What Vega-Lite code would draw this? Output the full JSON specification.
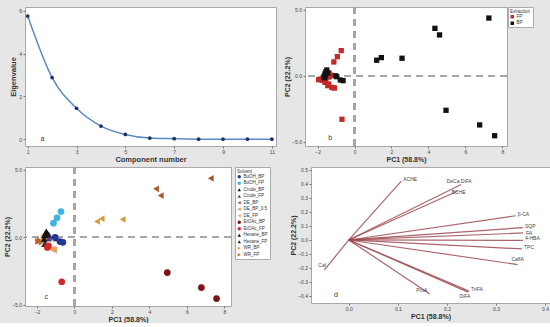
{
  "$schema": "https://vega.github.io/schema/vega-lite/v6.json",
  "background": "#e6e6e6",
  "padding": {"left": 3, "top": 5, "right": 0, "bottom": 0},
  "datasets": {
    "scree": [
      {"component": 1, "eigen": 5.75}, {"component": 2, "eigen": 2.88}, {"component": 3, "eigen": 1.45},
      {"component": 4, "eigen": 0.62}, {"component": 5, "eigen": 0.23}, {"component": 6, "eigen": 0.06},
      {"component": 7, "eigen": 0.03}, {"component": 8, "eigen": 0.01}, {"component": 9, "eigen": 0.01},
      {"component": 10, "eigen": 0.01}, {"component": 11, "eigen": 0.01}
    ],
    "scores": [
      {"solvent": "Hexane_FP", "extraction": "FP", "pc1": -1.6, "pc2": -0.5},
      {"solvent": "Hexane_FP", "extraction": "FP", "pc1": -1.55, "pc2": -0.45},
      {"solvent": "Hexane_FP", "extraction": "FP", "pc1": -1.38, "pc2": 0.21},
      {"solvent": "WR_FP", "extraction": "FP", "pc1": -1.94, "pc2": -0.3},
      {"solvent": "WR_FP", "extraction": "FP", "pc1": -1.85, "pc2": -0.25},
      {"solvent": "WR_FP", "extraction": "FP", "pc1": -1.75, "pc2": -0.35},
      {"solvent": "Crude_FP", "extraction": "FP", "pc1": -1.36, "pc2": -0.04},
      {"solvent": "Crude_FP", "extraction": "FP", "pc1": -1.3, "pc2": 0.05},
      {"solvent": "Crude_FP", "extraction": "FP", "pc1": -1.4, "pc2": -0.1},
      {"solvent": "DE_FP", "extraction": "FP", "pc1": -1.23, "pc2": -0.88},
      {"solvent": "DE_FP", "extraction": "FP", "pc1": -1.09, "pc2": -0.93},
      {"solvent": "DE_FP", "extraction": "FP", "pc1": -1.15, "pc2": -0.9},
      {"solvent": "EtOAc_FP", "extraction": "FP", "pc1": -0.68, "pc2": -3.3},
      {"solvent": "EtOAc_FP", "extraction": "FP", "pc1": -1.45, "pc2": -0.75},
      {"solvent": "EtOAc_FP", "extraction": "FP", "pc1": -1.39, "pc2": -0.63},
      {"solvent": "BuOH_FP", "extraction": "FP", "pc1": -0.72, "pc2": 1.91},
      {"solvent": "BuOH_FP", "extraction": "FP", "pc1": -0.93, "pc2": 1.45},
      {"solvent": "BuOH_FP", "extraction": "FP", "pc1": -1.12, "pc2": 1.05},
      {"solvent": "WR_BP", "extraction": "BP", "pc1": -1.65, "pc2": -0.05},
      {"solvent": "WR_BP", "extraction": "BP", "pc1": -1.58, "pc2": 0.05},
      {"solvent": "WR_BP", "extraction": "BP", "pc1": -1.62, "pc2": -0.15},
      {"solvent": "Crude_BP", "extraction": "BP", "pc1": -1.6, "pc2": 0.14},
      {"solvent": "Crude_BP", "extraction": "BP", "pc1": -1.62, "pc2": -0.12},
      {"solvent": "Crude_BP", "extraction": "BP", "pc1": -0.96, "pc2": -0.07},
      {"solvent": "Hexane_BP", "extraction": "BP", "pc1": -1.5, "pc2": 0.44},
      {"solvent": "Hexane_BP", "extraction": "BP", "pc1": -1.55, "pc2": 0.3},
      {"solvent": "Hexane_BP", "extraction": "BP", "pc1": -1.45, "pc2": 0.2},
      {"solvent": "BuOH_BP", "extraction": "BP", "pc1": -1.03, "pc2": 0.0},
      {"solvent": "BuOH_BP", "extraction": "BP", "pc1": -0.77, "pc2": -0.32},
      {"solvent": "BuOH_BP", "extraction": "BP", "pc1": -0.62, "pc2": -0.37},
      {"solvent": "DE_BP", "extraction": "BP", "pc1": 7.27, "pc2": 4.38},
      {"solvent": "DE_BP", "extraction": "BP", "pc1": 4.35, "pc2": 3.6},
      {"solvent": "DE_BP", "extraction": "BP", "pc1": 4.6, "pc2": 3.1},
      {"solvent": "DE_BP_0.5", "extraction": "BP", "pc1": 1.2, "pc2": 1.18},
      {"solvent": "DE_BP_0.5", "extraction": "BP", "pc1": 1.45, "pc2": 1.38},
      {"solvent": "DE_BP_0.5", "extraction": "BP", "pc1": 2.57, "pc2": 1.33},
      {"solvent": "EtOAc_BP", "extraction": "BP", "pc1": 4.95, "pc2": -2.62},
      {"solvent": "EtOAc_BP", "extraction": "BP", "pc1": 6.77, "pc2": -3.73},
      {"solvent": "EtOAc_BP", "extraction": "BP", "pc1": 7.58, "pc2": -4.55}
    ],
    "loadings": [
      {"variable": "ACHE", "pc1": 0.107, "pc2": 0.42},
      {"variable": "DeCa DiFA", "pc1": 0.229, "pc2": 0.396},
      {"variable": "BCHE", "pc1": 0.222, "pc2": 0.35},
      {"variable": "β-CA", "pc1": 0.34, "pc2": 0.173},
      {"variable": "SQP", "pc1": 0.355, "pc2": 0.088},
      {"variable": "FA", "pc1": 0.355, "pc2": 0.05},
      {"variable": "4-HBA", "pc1": 0.355, "pc2": -0.003},
      {"variable": "TPC", "pc1": 0.353, "pc2": -0.064},
      {"variable": "CaffA", "pc1": 0.344, "pc2": -0.176},
      {"variable": "TriFA", "pc1": 0.245, "pc2": -0.365},
      {"variable": "DiFA", "pc1": 0.243, "pc2": -0.372},
      {"variable": "ProA", "pc1": 0.165, "pc2": -0.385},
      {"variable": "Caf", "pc1": -0.05, "pc2": -0.215}
    ]
  },
  "config": {
    "font": "Liberation Sans",
    "view": {"fill": "white", "stroke": "#a8a8a8", "strokeWidth": 1},
    "axis": {
      "domain": false, "grid": false, "labelOverlap": false, "labelFlush": false,
      "labelFontSize": 5, "labelColor": "#444", "labelPadding": 1.5,
      "tickSize": 2, "tickColor": "#777",
      "titleFontSize": 7, "titleFontWeight": "bold", "titleColor": "#333", "titlePadding": 1
    },
    "legend": {
      "orient": "right", "fillColor": "white", "strokeColor": "#aaaaaa", "padding": 2,
      "titleFontSize": 4.5, "titleFontWeight": "normal", "titleColor": "#333", "titlePadding": 1,
      "labelFontSize": 4.5, "labelColor": "#333", "labelOffset": 2, "rowPadding": 1.5,
      "symbolSize": 12, "symbolStrokeWidth": 0
    }
  },
  "spacing": 1,
  "resolve": {"scale": {"color": "independent", "shape": "independent"}, "legend": {"color": "independent", "shape": "independent"}},
  "vconcat": [
    {
      "spacing": 6,
      "resolve": {"scale": {"color": "independent", "shape": "independent"}, "legend": {"color": "independent", "shape": "independent"}},
      "hconcat": [
        {
          "width": 251, "height": 139,
          "data": {"name": "scree"},
          "layer": [
            {
              "mark": {"type": "line", "interpolate": "monotone", "color": "#5b89c4", "strokeWidth": 1.5},
              "encoding": {
                "x": {"field": "component", "type": "quantitative", "scale": {"domain": [0.89, 11.17], "nice": false, "zero": false}, "axis": {"values": [1,2,3,4,5,6,7,8,9,10,11], "title": "Component number", "titleFontSize": 7.5}},
                "y": {"field": "eigen", "type": "quantitative", "scale": {"domain": [-0.31, 6.17], "nice": false, "zero": false}, "axis": {"values": [0,1,2,3,4,5,6], "title": "Eigenvalue", "titleFontSize": 7.5}}
              }
            },
            {
              "mark": {"type": "circle", "color": "#1c2f6a", "opacity": 1, "size": 14},
              "encoding": {
                "x": {"field": "component", "type": "quantitative"},
                "y": {"field": "eigen", "type": "quantitative"}
              }
            },
            {
              "data": {"values": [{"x": 1.6, "y": 0, "t": "a"}]},
              "mark": {"type": "text", "fontSize": 7, "color": "#333"},
              "encoding": {"x": {"field": "x", "type": "quantitative"}, "y": {"field": "y", "type": "quantitative"}, "text": {"field": "t"}}
            }
          ]
        },
        {
          "width": 202, "height": 139,
          "data": {"name": "scores"},
          "layer": [
            {
              "mark": {"type": "rule", "stroke": "#a6a6a6", "strokeDash": [7, 5], "strokeWidth": 1.3},
              "encoding": {"x": {"datum": 0, "type": "quantitative"}}
            },
            {
              "mark": {"type": "rule", "stroke": "#a6a6a6", "strokeDash": [7, 5], "strokeWidth": 1.3},
              "encoding": {"y": {"datum": 0, "type": "quantitative"}}
            },
            {
              "mark": {"type": "point", "shape": "square", "filled": true, "opacity": 1, "size": 28},
              "encoding": {
                "x": {"field": "pc1", "type": "quantitative", "scale": {"domain": [-2.68, 8.25], "nice": false, "zero": false}, "axis": {"values": [-2,0,2,4,6,8], "title": "PC1 (58.8%)"}},
                "y": {"field": "pc2", "type": "quantitative", "scale": {"domain": [-5.33, 5.22], "nice": false, "zero": false}, "axis": {"values": [-5,-2.5,0,2.5,5], "format": ".1f", "title": "PC2 (22.2%)"}},
                "color": {"field": "extraction", "type": "nominal", "scale": {"domain": ["FP", "BP"], "range": ["#c42a2a", "#111111"]}, "legend": {"title": "Extraction", "symbolType": "square", "offset": 1}}
              }
            },
            {
              "data": {"values": [{"x": -1.32, "y": -4.75, "t": "b"}]},
              "mark": {"type": "text", "fontSize": 7, "color": "#333"},
              "encoding": {"x": {"field": "x", "type": "quantitative"}, "y": {"field": "y", "type": "quantitative"}, "text": {"field": "t"}}
            }
          ]
        }
      ]
    },
    {
      "spacing": 18,
      "resolve": {"scale": {"color": "independent", "shape": "independent"}, "legend": {"color": "independent", "shape": "independent"}},
      "hconcat": [
        {
          "width": 206, "height": 139,
          "data": {"name": "scores"},
          "layer": [
            {
              "mark": {"type": "rule", "stroke": "#a6a6a6", "strokeDash": [7, 5], "strokeWidth": 1.3},
              "encoding": {"x": {"datum": 0, "type": "quantitative"}}
            },
            {
              "mark": {"type": "rule", "stroke": "#a6a6a6", "strokeDash": [7, 5], "strokeWidth": 1.3},
              "encoding": {"y": {"datum": 0, "type": "quantitative"}}
            },
            {
              "mark": {"type": "point", "filled": true, "opacity": 1, "size": 45},
              "encoding": {
                "x": {"field": "pc1", "type": "quantitative", "scale": {"domain": [-2.64, 8.35], "nice": false, "zero": false}, "axis": {"values": [-2,0,2,4,6,8], "title": "PC1 (58.8%)"}},
                "y": {"field": "pc2", "type": "quantitative", "scale": {"domain": [-5.1, 5.22], "nice": false, "zero": false}, "axis": {"values": [-5,-2.5,0,2.5,5], "format": ".1f", "title": "PC2 (22.2%)"}},
                "color": {"field": "solvent", "type": "nominal",
                  "scale": {"domain": ["BuOH_BP","BuOH_FP","Crude_BP","Crude_FP","DE_BP","DE_BP_0.5","DE_FP","EtOAc_BP","EtOAc_FP","Hexane_BP","Hexane_FP","WR_BP","WR_FP"],
                            "range": ["#1f3a93","#3fb4e3","#111111","#5b3f8c","#a85a2a","#d99a3a","#e8a25a","#7b1414","#d42a2a","#111111","#2a2a2a","#e8a23a","#b5652a"]},
                  "legend": {"title": "Solvent", "offset": 4, "symbolSize": 12}},
                "shape": {"field": "solvent", "type": "nominal",
                  "scale": {"domain": ["BuOH_BP","BuOH_FP","Crude_BP","Crude_FP","DE_BP","DE_BP_0.5","DE_FP","EtOAc_BP","EtOAc_FP","Hexane_BP","Hexane_FP","WR_BP","WR_FP"],
                            "range": ["circle","circle","triangle-up","triangle-up","triangle-left","triangle-left","triangle-left","circle","circle","triangle-up","triangle-up","triangle-right","triangle-right"]},
                  "legend": {"title": "Solvent", "offset": 4, "symbolSize": 12}}
              }
            },
            {
              "data": {"values": [{"x": -1.51, "y": -4.46, "t": "c"}]},
              "mark": {"type": "text", "fontSize": 7, "color": "#333"},
              "encoding": {"x": {"field": "x", "type": "quantitative"}, "y": {"field": "y", "type": "quantitative"}, "text": {"field": "t"}}
            }
          ]
        },
        {
          "width": 239, "height": 136,
          "data": {"name": "loadings"},
          "encoding": {
            "x": {"field": "pc1", "type": "quantitative", "scale": {"domain": [-0.077, 0.41], "nice": false, "zero": false}, "axis": {"values": [0, 0.1, 0.2, 0.3, 0.4], "format": ".1f", "title": "PC1 (58.8%)"}},
            "y": {"field": "pc2", "type": "quantitative", "scale": {"domain": [-0.45, 0.521], "nice": false, "zero": false}, "axis": {"values": [-0.4,-0.3,-0.2,-0.1,0,0.1,0.2,0.3,0.4,0.5], "format": ".1f", "title": "PC2 (22.2%)"}}
          },
          "layer": [
            {
              "mark": {"type": "rule", "stroke": "#9c4a50", "strokeWidth": 1.2, "opacity": 0.85},
              "encoding": {"x2": {"datum": 0}, "y2": {"datum": 0}}
            },
            {
              "transform": [{"filter": {"field": "variable", "oneOf": ["ACHE", "β-CA", "SQP", "4-HBA", "TPC", "TriFA"]}}],
              "mark": {"type": "text", "align": "left", "dx": 2, "dy": -2, "fontSize": 5, "color": "#444"},
              "encoding": {"text": {"field": "variable"}}
            },
            {
              "transform": [{"filter": {"field": "variable", "oneOf": ["FA"]}}],
              "mark": {"type": "text", "align": "left", "dx": 3, "dy": 0, "fontSize": 5, "color": "#444"},
              "encoding": {"text": {"field": "variable"}}
            },
            {
              "transform": [{"filter": {"field": "variable", "oneOf": ["DeCa DiFA"]}}],
              "mark": {"type": "text", "align": "center", "dx": -2, "dy": -4, "fontSize": 5, "color": "#444"},
              "encoding": {"text": {"field": "variable"}}
            },
            {
              "transform": [{"filter": {"field": "variable", "oneOf": ["BCHE"]}}],
              "mark": {"type": "text", "align": "left", "dx": -6, "dy": 1, "fontSize": 5, "color": "#444"},
              "encoding": {"text": {"field": "variable"}}
            },
            {
              "transform": [{"filter": {"field": "variable", "oneOf": ["CaffA"]}}],
              "mark": {"type": "text", "align": "center", "dx": 0, "dy": -6, "fontSize": 5, "color": "#444"},
              "encoding": {"text": {"field": "variable"}}
            },
            {
              "transform": [{"filter": {"field": "variable", "oneOf": ["ProA"]}}],
              "mark": {"type": "text", "align": "center", "dx": -8, "dy": -4, "fontSize": 5, "color": "#444"},
              "encoding": {"text": {"field": "variable"}}
            },
            {
              "transform": [{"filter": {"field": "variable", "oneOf": ["DiFA"]}}],
              "mark": {"type": "text", "align": "center", "dx": -3, "dy": 4, "fontSize": 5, "color": "#444"},
              "encoding": {"text": {"field": "variable"}}
            },
            {
              "transform": [{"filter": {"field": "variable", "oneOf": ["Caf"]}}],
              "mark": {"type": "text", "align": "center", "dx": -2, "dy": -5, "fontSize": 5, "color": "#444"},
              "encoding": {"text": {"field": "variable"}}
            },
            {
              "data": {"values": [{"pc1": -0.026, "pc2": -0.396, "t": "d"}]},
              "mark": {"type": "text", "fontSize": 7, "color": "#333"},
              "encoding": {"text": {"field": "t"}}
            }
          ]
        }
      ]
    }
  ]
}
